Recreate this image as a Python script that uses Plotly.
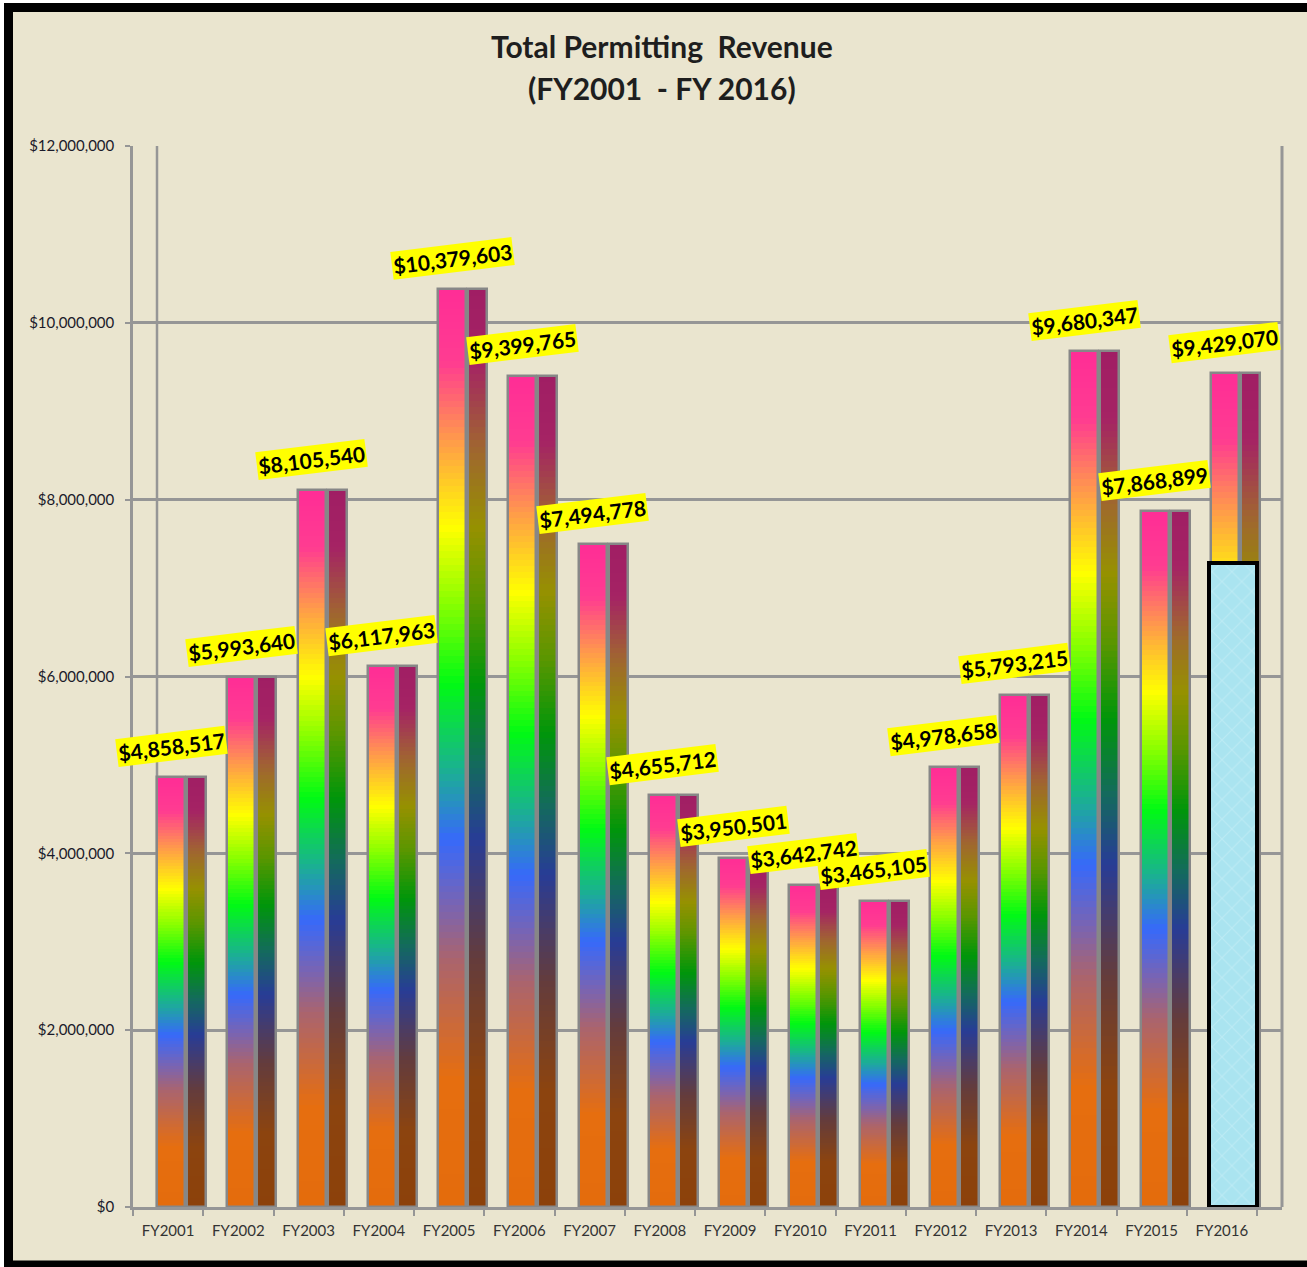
import plotly.graph_objects as go

# ---------------- data ----------------
years = ["FY2001", "FY2002", "FY2003", "FY2004", "FY2005", "FY2006", "FY2007", "FY2008",
         "FY2009", "FY2010", "FY2011", "FY2012", "FY2013", "FY2014", "FY2015", "FY2016"]
revenue = [4858517, 5993640, 8105540, 6117963, 10379603, 9399765, 7494778, 4655712,
           3950501, 3642742, 3465105, 4978658, 5793215, 9680347, 7868899, 9429070]
fy2016_to_date = 7280000  # light-blue overlay bar on FY2016

title_lines = ["Total Permitting  Revenue", "(FY2001  - FY 2016)"]

# ---------------- geometry helpers ----------------
W, H = 1307, 1267
PL, PR, PT, PB = 133, 1282, 146, 1207   # plot area in pixels
UNIT = 70.25                             # px per category
XMIN = -0.5
XMAX = XMIN + (PR - PL) / UNIT


def px(x):
    return (x - PL) / (PR - PL)


def py(y):
    return (PB - y) / (PB - PT)


def lerp_stops(stops, f):
    for (f0, c0), (f1, c1) in zip(stops[:-1], stops[1:]):
        if f0 <= f <= f1:
            t = (f - f0) / (f1 - f0) if f1 > f0 else 0
            return "rgb(%d,%d,%d)" % tuple(round(a + (b - a) * t) for a, b in zip(c0, c1))
    return "rgb(%d,%d,%d)" % stops[-1][1]


front_stops = [
    (0.00, (228, 108, 12)), (0.14, (230, 110, 15)), (0.27, (170, 100, 110)),
    (0.33, (120, 100, 180)), (0.40, (55, 105, 250)), (0.48, (25, 180, 140)),
    (0.57, (0, 250, 20)), (0.66, (140, 255, 0)), (0.74, (255, 255, 0)),
    (0.83, (255, 160, 70)), (0.92, (255, 60, 145)), (1.00, (255, 45, 150)),
]
side_stops = [
    (0.00, (140, 65, 10)), (0.14, (140, 68, 15)), (0.27, (100, 60, 60)),
    (0.33, (75, 60, 100)), (0.40, (40, 60, 150)), (0.48, (20, 105, 95)),
    (0.57, (0, 150, 10)), (0.66, (90, 150, 0)), (0.74, (150, 145, 0)),
    (0.83, (160, 100, 50)), (0.92, (165, 35, 100)), (1.00, (160, 30, 100)),
]

xs = list(range(len(years)))
N = 140
FRONT_OFF, FRONT_W = (157 - 168) / UNIT, 28 / UNIT
SIDE_OFF, SIDE_W = (187 - 168) / UNIT, 19 / UNIT

fig = go.Figure()

for off, wd, stops in [(FRONT_OFF, FRONT_W, front_stops), (SIDE_OFF, SIDE_W, side_stops)]:
    for k in range(N):
        frac = (k + 0.5) / N
        seg = [v / N * (2.0 if k < N - 1 else 1.0) for v in revenue]
        base = [v * k / N for v in revenue]
        fig.add_trace(go.Bar(
            x=xs, y=seg, base=base, width=wd, offset=off,
            marker=dict(color=lerp_stops(stops, frac), line=dict(width=0)),
            hoverinfo="skip", showlegend=False,
        ))
    # outline
    fig.add_trace(go.Bar(
        x=xs, y=revenue, base=[0] * len(revenue), width=wd, offset=off,
        marker=dict(color="rgba(0,0,0,0)", line=dict(color="rgb(135,135,135)", width=2.5)),
        hoverinfo="skip", showlegend=False,
    ))

# FY2016 textured overlay
fig.add_trace(go.Bar(
    x=[xs[-1]], y=[fy2016_to_date], base=[0],
    width=(1257 - 1209) / UNIT, offset=(1209 - 1222) / UNIT,
    marker=dict(color="rgb(168,226,238)",
                line=dict(color="black", width=4),
                pattern=dict(shape="x", fgcolor="rgb(205,240,248)", bgcolor="rgb(170,228,240)",
                             size=14, solidity=0.15)),
    hoverinfo="skip", showlegend=False,
))

# data labels
annotations = []
for i, v in enumerate(revenue):
    annotations.append(dict(
        x=i, y=v, xref="x", yref="y", text="$%s" % format(v, ","),
        showarrow=False, xanchor="center", yanchor="middle",
        xshift=3, yshift=31, textangle=-7,
        bgcolor="#FFFF00", borderpad=1,
        font=dict(family="Lato", size=21, color="black", weight="bold"),
    ))

# title
for t, yy in zip(title_lines, [46, 88]):
    annotations.append(dict(
        x=px(662), y=py(yy), xref="paper", yref="paper", text=t, showarrow=False,
        xanchor="center", yanchor="middle",
        font=dict(family="Lato", size=30, color="#1e1e1e", weight="bold"),
    ))

grid_col = "rgb(150,150,150)"
shapes = [
    # outer frame with beige fill
    dict(type="rect", xref="paper", yref="paper",
         x0=px(8.5), x1=px(1330), y0=py(7.5), y1=py(1265),
         line=dict(color="black", width=9), fillcolor="#EAE5CF", layer="below"),
    # back wall vertical line
    dict(type="line", xref="x", yref="y", x0=XMIN + 24 / UNIT, x1=XMIN + 24 / UNIT,
         y0=0, y1=12000000, line=dict(color=grid_col, width=2.5), layer="below"),
    # right wall line
    dict(type="line", xref="paper", yref="paper", x0=1, x1=1, y0=0, y1=1,
         line=dict(color=grid_col, width=3), layer="below"),
]

fig.update_layout(
    width=W, height=H,
    margin=dict(l=PL, r=W - PR, t=PT, b=H - PB, pad=0),
    paper_bgcolor="white", plot_bgcolor="rgba(0,0,0,0)",
    barmode="overlay", bargap=0,
    showlegend=False,
    annotations=annotations, shapes=shapes,
    xaxis=dict(
        range=[XMIN, XMAX], tickmode="array", tickvals=xs, ticktext=years,
        ticks="", showgrid=False, zeroline=False,
        showline=True, linecolor=grid_col, linewidth=2.5,
        tickfont=dict(family="Lato", size=15, color="#333333"),
        ticklabelstandoff=8,
        minor=dict(tickmode="linear", tick0=-0.5, dtick=1, ticks="outside",
                   ticklen=6, tickwidth=2, tickcolor=grid_col, showgrid=False),
    ),
    yaxis=dict(
        range=[0, 12000000], dtick=2000000, tick0=0,
        tickprefix="$", tickformat=",.0f",
        showgrid=True, gridcolor=grid_col, gridwidth=2.5, zeroline=False,
        showline=True, linecolor=grid_col, linewidth=2.5,
        ticks="outside", ticklen=5, tickwidth=2, tickcolor=grid_col,
        tickfont=dict(family="Lato", size=15, color="#1a1a2a"),
        ticklabelstandoff=8,
    ),
)

fig.write_html("out.html")
